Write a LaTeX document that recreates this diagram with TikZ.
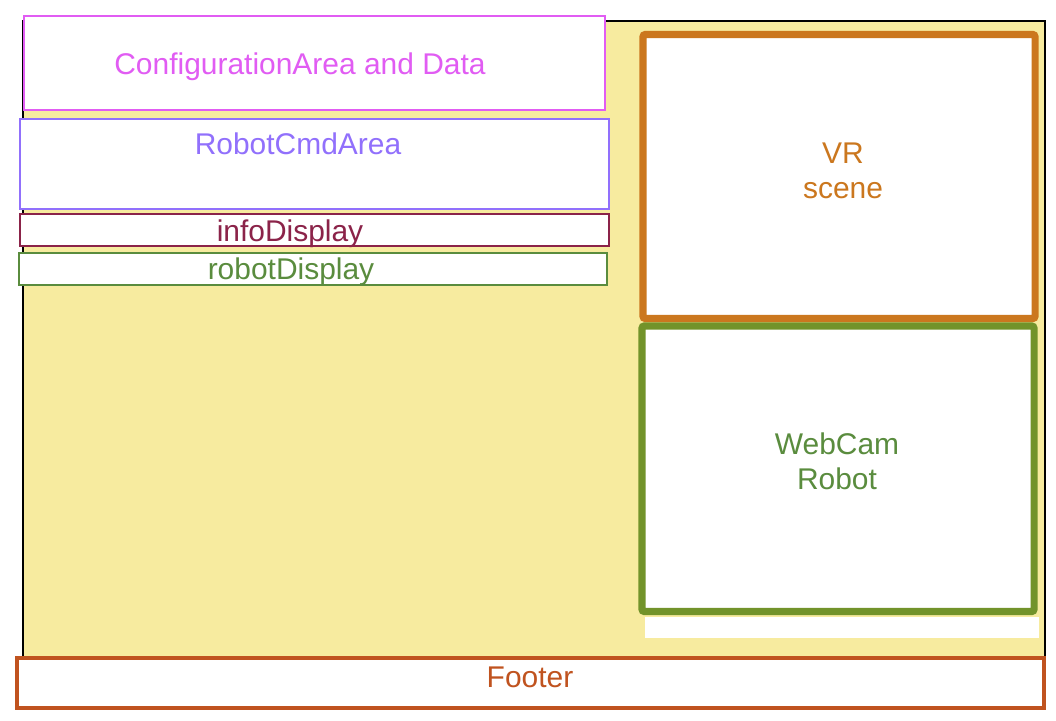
\documentclass[tikz,border=0pt]{standalone}
\usepackage{fontspec}
\setmainfont{Liberation Sans}
\definecolor{pageYellow}{HTML}{F7EB9F}
\definecolor{cfgMagenta}{HTML}{E15CF3}
\definecolor{cmdPurple}{HTML}{9170FC}
\definecolor{infoMaroon}{HTML}{8B2349}
\definecolor{robotGreen}{HTML}{5A8C3E}
\definecolor{vrOrange}{HTML}{CB771E}
\definecolor{camOlive}{HTML}{72932A}
\definecolor{footRust}{HTML}{C0531F}
\tikzset{
    area/.style={draw=#1, fill=white, line width=1.4pt},
    bigarea/.style={draw=#1, fill=white, line width=5pt, rounded corners=1.5pt},
    areatext/.style={text=#1, font=\fontsize{21.3}{24.5}\selectfont, align=center, inner sep=0pt},
}

\begin{document}
\begin{tikzpicture}[x=0.025cm, y=-0.025cm]
\useasboundingbox (0,0) rectangle (1056,721);
\draw[fill=pageYellow, line width=1.1pt] (23,21) rectangle (1045,657); % page body
\draw[area=cfgMagenta] (24,16) rectangle (605,110); % configuration
\node[areatext=cfgMagenta, anchor=base] (cfg) at (300,75) {ConfigurationArea and Data};
\draw[area=cmdPurple] (20,119) rectangle (609,209); % robot commands
\node[areatext=cmdPurple, anchor=base] (cmd) at (298,155) {RobotCmdArea};
\draw[area=infoMaroon] (20,214) rectangle (609,246); % info
\node[areatext=infoMaroon, anchor=base] (info) at (290,242) {infoDisplay};
\draw[area=robotGreen] (19,253) rectangle (607,285); % robot display
\node[areatext=robotGreen, anchor=base] (rdisp) at (291,279) {robotDisplay};
\draw[bigarea=vrOrange] (643,34.5) rectangle (1035,318.5); % VR
\node[areatext=vrOrange] (vr) at (843,171) {VR\\scene};
\draw[bigarea=camOlive] (642,326) rectangle (1034,611.5); % webcam
\node[areatext=robotGreen] (cam) at (837,461.5) {WebCam\\Robot};
\fill[white] (645,617) rectangle (1039,638); % gap below webcam
\draw[area=footRust, line width=2.8pt] (17,658) rectangle (1044,708); % footer
\node[areatext=footRust, anchor=base] (foot) at (530,687) {Footer};
\end{tikzpicture}
\end{document}
